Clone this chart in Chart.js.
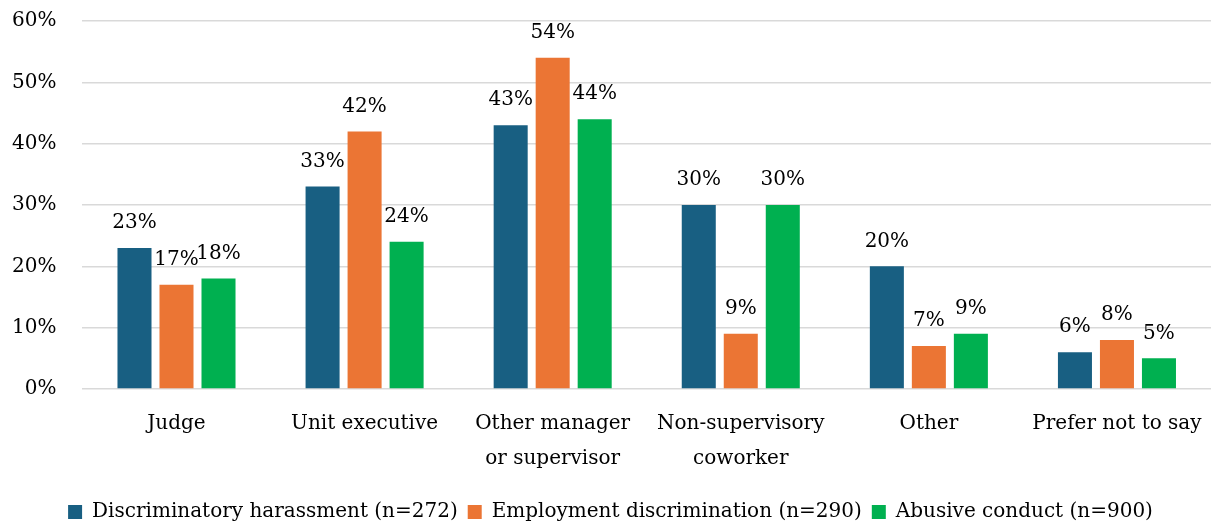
<!DOCTYPE html>
<html>
<head>
<meta charset="utf-8">
<script src="https://cdn.jsdelivr.net/npm/chart.js@4"></script>
<style>
  body { margin: 0; background: #fff; }
  #wrap { width: 1215px; height: 524px; }
</style>
</head>
<body>
<div id="wrap"><canvas id="myChart" width="1215" height="524"></canvas></div>
<script>
// data
const categories = [
  "Judge",
  "Unit executive",
  ["Other manager", "or supervisor"],
  ["Non-supervisory", "coworker"],
  "Other",
  "Prefer not to say"
];
const harassment = [23, 33, 43, 30, 20, 6];
const employment = [17, 42, 54, 9, 7, 8];
const abusive = [18, 24, 44, 30, 9, 5];
const seriesNames = [
  "Discriminatory harassment (n=272)",
  "Employment discrimination (n=290)",
  "Abusive conduct (n=900)"
];
const yTicks = [0, 10, 20, 30, 40, 50, 60];

const fontFam = "'DejaVu Serif', 'Liberation Serif', serif";
const fontSize = 20;

// labels above bars
const barLabels = {
  id: "barLabels",
  afterDatasetsDraw(chart) {
    const ctx = chart.ctx;
    ctx.save();
    ctx.font = fontSize + "px " + fontFam;
    ctx.fillStyle = "#000";
    ctx.textAlign = "center";
    ctx.textBaseline = "middle";
    chart.data.datasets.forEach((ds, i) => {
      const meta = chart.getDatasetMeta(i);
      meta.data.forEach((bar, j) => {
        ctx.fillText(ds.data[j] + "%", bar.x, bar.y - 25);
      });
    });
    ctx.restore();
  }
};

const data = {
  labels: categories,
  datasets: [
    { label: seriesNames[0], data: harassment, backgroundColor: "#185F82" },
    { label: seriesNames[1], data: employment, backgroundColor: "#EB7534" },
    { label: seriesNames[2], data: abusive, backgroundColor: "#00B050" }
  ]
};

const ctx = document.getElementById("myChart").getContext("2d");
const myChart = new Chart(ctx, {
  type: "bar",
  data: data,
  options: {
    responsive: false,
    animation: false,
    datasets: {
      bar: { categoryPercentage: 0.67, barPercentage: 0.81 }
    },
    layout: { padding: { top: 21, right: 4, left: 10, bottom: -8 } },
    plugins: {
      legend: {
        position: "bottom",
        labels: {
          boxWidth: 14,
          boxHeight: 14,
          padding: 10,
          color: "#000",
          font: { family: fontFam, size: fontSize }
        }
      },
      tooltip: { enabled: false }
    },
    scales: {
      x: {
        grid: { display: false },
        border: { display: false },
        afterFit: (scale) => { scale.height += 7; },
        ticks: {
          color: "#000",
          padding: 9,
          maxRotation: 0,
          font: { family: fontFam, size: fontSize, lineHeight: 1.75 }
        }
      },
      y: {
        min: 0,
        max: 60,
        afterBuildTicks: (axis) => { axis.ticks = yTicks.map(v => ({ value: v })); },
        grid: { color: "#d9d9d9", lineWidth: 1.5, tickLength: 24, tickColor: "rgba(0,0,0,0)" },
        border: { display: false },
        ticks: {
          color: "#000",
          padding: 2,
          font: { family: fontFam, size: fontSize },
          callback: (v) => v + "%"
        }
      }
    }
  },
  plugins: [barLabels]
});
</script>
</body>
</html>
